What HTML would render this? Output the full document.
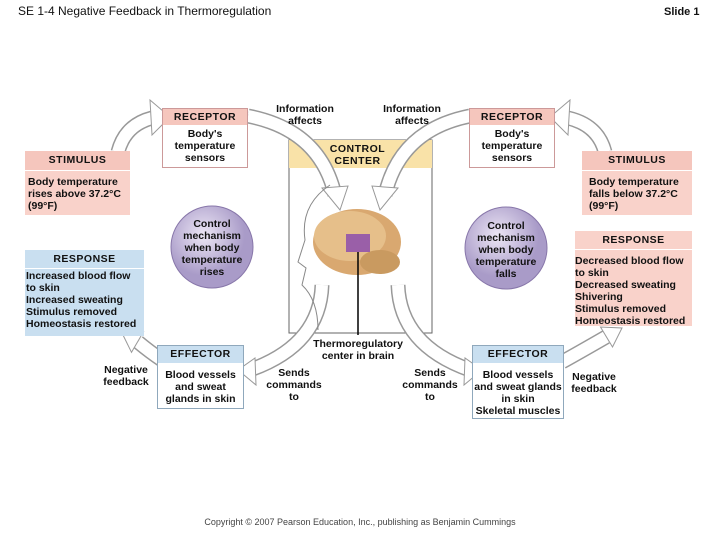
<!DOCTYPE html>
<html><head><meta charset="utf-8"><style>
body{margin:0;width:720px;height:540px;background:#fff;position:relative;overflow:hidden;font-family:"Liberation Sans",Arial,sans-serif;font-weight:bold;color:#111}
.a{position:absolute}
.t{font-size:10.5px;line-height:12px;text-align:center}
.box{position:absolute;box-sizing:border-box}
.h{text-align:center;font-size:10.5px;letter-spacing:.5px}
</style></head><body>
<div class="a" style="left:18px;top:4px;font-size:12px;font-weight:normal">SE 1-4 Negative Feedback in Thermoregulation</div>
<div class="a" style="left:664px;top:6px;font-size:11px">Slide 1</div>

<svg class="a" style="left:0;top:0" width="720" height="540">
<g fill="none" stroke-linecap="butt">
<rect x="289" y="140" width="143" height="193" fill="#fff" stroke="#666" stroke-width="1"/>
<rect x="289" y="140" width="143" height="28" fill="#f9e2a8" stroke="none"/>
<g stroke="#999" stroke-width="15">
<path d="M248 116 Q320 130 335 195"/>
<path d="M470 116 Q400 130 385 195"/>
<path d="M322 285 Q320 345 250 370"/>
<path d="M398 285 Q400 345 470 370"/>
<path d="M118 152 Q125 125 152 118"/>
<path d="M605 152 Q598 125 568 118"/>
<path d="M162 360 Q150 352 138 342"/>
<path d="M562 362 Q580 352 606 337"/>
</g>
<g stroke="#fff" stroke-width="12">
<path d="M248 116 Q320 130 335 195"/>
<path d="M470 116 Q400 130 385 195"/>
<path d="M322 285 Q320 345 250 370"/>
<path d="M398 285 Q400 345 470 370"/>
<path d="M118 152 Q125 125 152 118"/>
<path d="M605 152 Q598 125 568 118"/>
<path d="M162 360 Q150 352 138 342"/>
<path d="M562 362 Q580 352 606 337"/>
</g>
</g>
<g fill="#fff" stroke="#999" stroke-width="1">
<polygon points="322,188 348,186 340,210"/>
<polygon points="398,188 372,186 380,210"/>
<polygon points="255,358 256,385 238,370"/>
<polygon points="465,358 464,385 482,370"/>
<polygon points="150,100 170,117 152,135"/>
<polygon points="570,100 550,117 568,135"/>
<polygon points="143.5,331.7 122,333 131.5,352.3"/>
<polygon points="612.5,347 622,328 600.5,327"/>
</g>
<path d="M330 185 Q300 205 305 240 L298 262 L306 268 L302 285 Q318 300 318 330" fill="none" stroke="#888" stroke-width="1"/>
<ellipse cx="357" cy="242" rx="44" ry="33" fill="#d9a870"/>
<ellipse cx="350" cy="236" rx="36" ry="25" fill="#e6bf8a"/>
<ellipse cx="380" cy="262" rx="20" ry="12" fill="#c99a60"/>
<rect x="346" y="234" width="24" height="18" fill="#9a5fa8"/>
<line x1="358" y1="252" x2="358" y2="335" stroke="#000" stroke-width="1.5"/>
<defs><radialGradient id="g" cx="40%" cy="35%"><stop offset="0" stop-color="#ece6f5"/><stop offset="1" stop-color="#a99bc8"/></radialGradient></defs>
<circle cx="212" cy="247" r="41" fill="url(#g)" stroke="#8877aa"/>
<circle cx="506" cy="248" r="41" fill="url(#g)" stroke="#8877aa"/>
</svg>

<div class="a t" style="left:270px;top:103px;width:70px">Information<br>affects</div>
<div class="a t" style="left:377px;top:103px;width:70px">Information<br>affects</div>
<div class="a h" style="left:310px;top:143px;width:95px;line-height:12px">CONTROL<br>CENTER</div>

<div class="box" style="left:162px;top:108px;width:86px;height:60px;border:1px solid #c99;background:#fff">
<div class="h" style="background:#f5c6bd;height:16px;line-height:16px">RECEPTOR</div>
<div class="t" style="margin-top:3px">Body's<br>temperature<br>sensors</div></div>
<div class="box" style="left:469px;top:108px;width:86px;height:60px;border:1px solid #c99;background:#fff">
<div class="h" style="background:#f5c6bd;height:16px;line-height:16px">RECEPTOR</div>
<div class="t" style="margin-top:3px">Body's<br>temperature<br>sensors</div></div>

<div class="box" style="left:25px;top:151px;width:105px;height:64px;background:#f9d2ca">
<div class="h" style="background:#f5c6bd;height:19px;line-height:19px;border-bottom:1px solid #fff">STIMULUS</div>
<div class="t" style="text-align:left;padding-left:3px;margin-top:5px">Body temperature<br>rises above 37.2°C<br>(99°F)</div></div>
<div class="box" style="left:582px;top:151px;width:110px;height:64px;background:#f9d2ca">
<div class="h" style="background:#f5c6bd;height:19px;line-height:19px;border-bottom:1px solid #fff">STIMULUS</div>
<div class="t" style="text-align:left;padding-left:7px;margin-top:5px">Body temperature<br>falls below 37.2°C<br>(99°F)</div></div>

<div class="a t" style="left:172px;top:218px;width:80px">Control<br>mechanism<br>when body<br>temperature<br>rises</div>
<div class="a t" style="left:466px;top:220px;width:80px">Control<br>mechanism<br>when body<br>temperature<br>falls</div>

<div class="box" style="left:25px;top:250px;width:119px;height:86px;background:#c9dff0">
<div class="h" style="height:18px;line-height:18px;border-bottom:1px solid #fff">RESPONSE</div>
<div class="t" style="text-align:left;padding-left:1px;margin-top:1px">Increased blood flow<br>to skin<br>Increased sweating<br>Stimulus removed<br>Homeostasis restored</div></div>
<div class="box" style="left:575px;top:231px;width:117px;height:95px;background:#f9d2ca">
<div class="h" style="height:18px;line-height:18px;border-bottom:1px solid #fff">RESPONSE</div>
<div class="t" style="text-align:left;padding-left:0;margin-top:5px">Decreased blood flow<br>to skin<br>Decreased sweating<br>Shivering<br>Stimulus removed<br>Homeostasis restored</div></div>

<div class="box" style="left:157px;top:345px;width:87px;height:64px;border:1px solid #8fa8bc;background:#fff">
<div class="h" style="background:#c9dff0;height:17px;line-height:17px">EFFECTOR</div>
<div class="t" style="margin-top:6px">Blood vessels<br>and sweat<br>glands in skin</div></div>
<div class="box" style="left:472px;top:345px;width:92px;height:74px;border:1px solid #8fa8bc;background:#fff">
<div class="h" style="background:#c9dff0;height:17px;line-height:17px">EFFECTOR</div>
<div class="t" style="margin-top:6px">Blood vessels<br>and sweat glands<br>in skin<br>Skeletal muscles</div></div>

<div class="a t" style="left:300px;top:338px;width:116px">Thermoregulatory<br>center in brain</div>
<div class="a t" style="left:258px;top:367px;width:72px">Sends<br>commands<br>to</div>
<div class="a t" style="left:394px;top:367px;width:72px">Sends<br>commands<br>to</div>
<div class="a t" style="left:96px;top:364px;width:60px">Negative<br>feedback</div>
<div class="a t" style="left:564px;top:371px;width:60px">Negative<br>feedback</div>
<div class="a" style="left:0;top:517px;width:720px;text-align:center;font-size:9px;font-weight:normal;color:#444">Copyright © 2007 Pearson Education, Inc., publishing as Benjamin Cummings</div>
</body></html>
